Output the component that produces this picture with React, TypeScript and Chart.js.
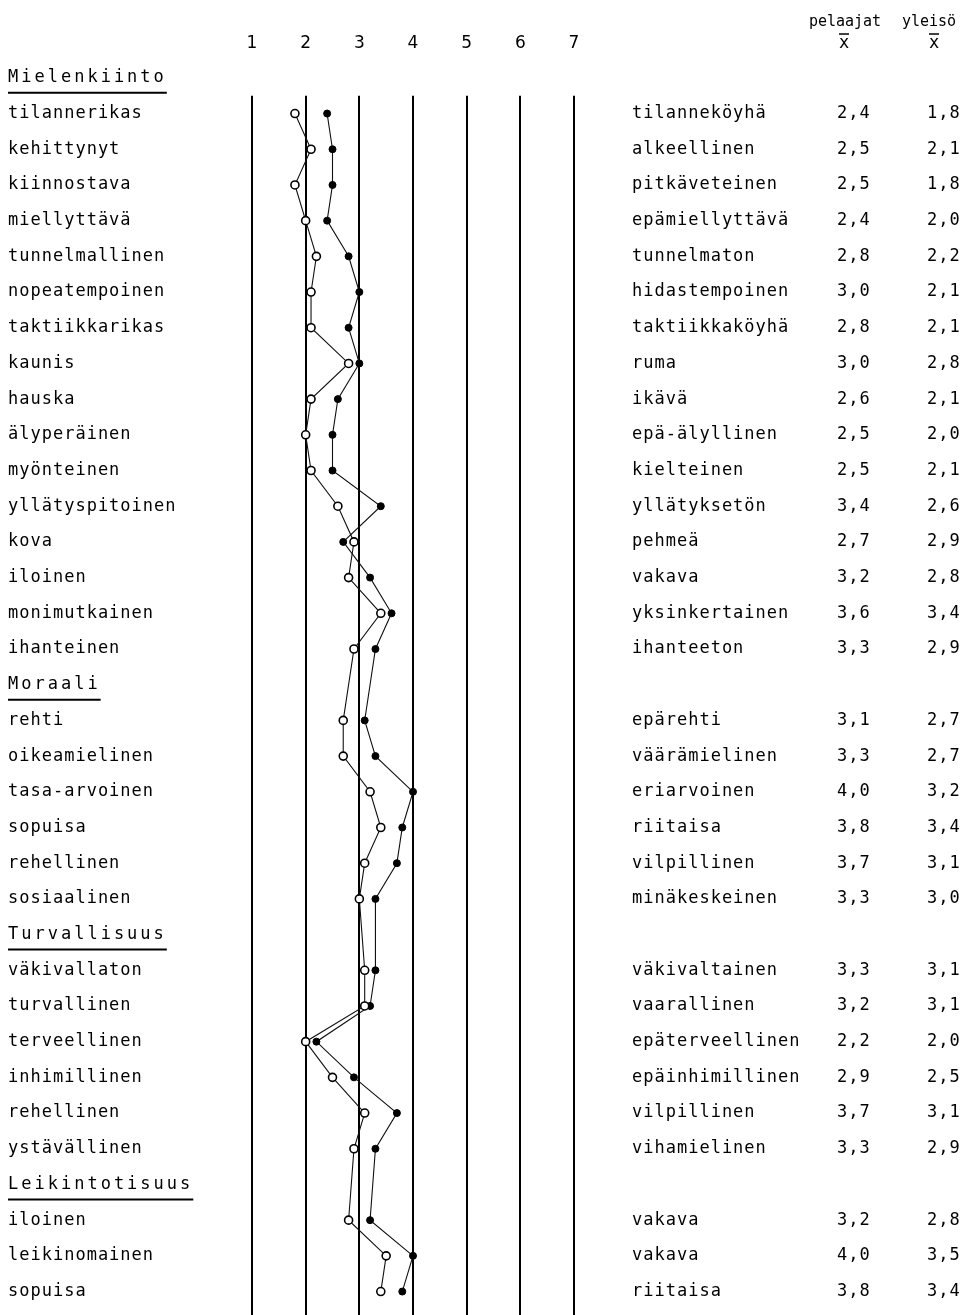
import React, { useEffect, useRef } from "react";
import { Chart, registerables } from "chart.js";

Chart.register(...registerables);

// Section headers are rows with empty values
const sectionHeaders = ["Mielenkiinto", "Moraali", "Turvallisuus", "Leikintotisuus"];

const positiveLabels = [
  "Mielenkiinto",
  "tilannerikas", "kehittynyt", "kiinnostava", "miellyttävä", "tunnelmallinen",
  "nopeatempoinen", "taktiikkarikas", "kaunis", "hauska", "älyperäinen",
  "myönteinen", "yllätyspitoinen", "kova", "iloinen", "monimutkainen", "ihanteinen",
  "Moraali",
  "rehti", "oikeamielinen", "tasa-arvoinen", "sopuisa", "rehellinen", "sosiaalinen",
  "Turvallisuus",
  "väkivallaton", "turvallinen", "terveellinen", "inhimillinen", "rehellinen", "ystävällinen",
  "Leikintotisuus",
  "iloinen", "leikinomainen", "sopuisa",
];

const negativeLabels = [
  "",
  "tilanneköyhä", "alkeellinen", "pitkäveteinen", "epämiellyttävä", "tunnelmaton",
  "hidastempoinen", "taktiikkaköyhä", "ruma", "ikävä", "epä-älyllinen",
  "kielteinen", "yllätyksetön", "pehmeä", "vakava", "yksinkertainen", "ihanteeton",
  "",
  "epärehti", "väärämielinen", "eriarvoinen", "riitaisa", "vilpillinen", "minäkeskeinen",
  "",
  "väkivaltainen", "vaarallinen", "epäterveellinen", "epäinhimillinen", "vilpillinen", "vihamielinen",
  "",
  "vakava", "vakava", "riitaisa",
];

const pelaajat: (number | null)[] = [
  null,
  2.4, 2.5, 2.5, 2.4, 2.8, 3.0, 2.8, 3.0, 2.6, 2.5, 2.5, 3.4, 2.7, 3.2, 3.6, 3.3,
  null,
  3.1, 3.3, 4.0, 3.8, 3.7, 3.3,
  null,
  3.3, 3.2, 2.2, 2.9, 3.7, 3.3,
  null,
  3.2, 4.0, 3.8,
];

const yleiso: (number | null)[] = [
  null,
  1.8, 2.1, 1.8, 2.0, 2.2, 2.1, 2.1, 2.8, 2.1, 2.0, 2.1, 2.6, 2.9, 2.8, 3.4, 2.9,
  null,
  2.7, 2.7, 3.2, 3.4, 3.1, 3.0,
  null,
  3.1, 3.1, 2.0, 2.5, 3.1, 2.9,
  null,
  2.8, 3.5, 3.4,
];

const scaleTicks = [1, 2, 3, 4, 5, 6, 7];
const valueHeaders = ["pelaajat", "yleisö"];

const MONO = '"DejaVu Sans Mono", "Liberation Mono", monospace';

const fmt = (v: number | null) => (v == null ? "" : v.toFixed(1).replace(".", ","));

const semanticPlugin = {
  id: "semanticDifferential",
  beforeDatasetsDraw(chart: any) {
    const { ctx, scales } = chart;
    const x = scales.x;
    const y = scales.y;
    const step = y.getPixelForValue(1) - y.getPixelForValue(0);
    const top = y.getPixelForValue(0) + step / 2;
    ctx.save();
    ctx.strokeStyle = "#000";
    ctx.lineWidth = 2;
    scaleTicks.forEach((t) => {
      const px = Math.round(x.getPixelForValue(t));
      ctx.beginPath();
      ctx.moveTo(px, top);
      ctx.lineTo(px, chart.height);
      ctx.stroke();
    });
    ctx.restore();
  },
  afterDraw(chart: any) {
    const { ctx, scales } = chart;
    const y = scales.y;
    ctx.save();
    ctx.fillStyle = "#000";
    ctx.textBaseline = "middle";
    positiveLabels.forEach((label, i) => {
      const py = y.getPixelForValue(i);
      const isHeader = sectionHeaders.includes(label) && negativeLabels[i] === "";
      ctx.font = `17px ${MONO}`;
      ctx.textAlign = "left";
      if (isHeader) {
        (ctx as any).letterSpacing = "3px";
        ctx.fillText(label, 8, py);
        const w = ctx.measureText(label).width;
        ctx.strokeStyle = "#000";
        ctx.lineWidth = 2;
        ctx.beginPath();
        ctx.moveTo(8, py + 15);
        ctx.lineTo(8 + w, py + 15);
        ctx.stroke();
      } else {
        (ctx as any).letterSpacing = "1px";
        ctx.fillText(label, 8, py);
        ctx.fillText(negativeLabels[i], 632, py);
        ctx.fillText(fmt(pelaajat[i]), 837, py);
        ctx.fillText(fmt(yleiso[i]), 927, py);
      }
    });
    // column headers
    (ctx as any).letterSpacing = "0px";
    ctx.font = `15px ${MONO}`;
    ctx.textAlign = "center";
    ctx.fillText(valueHeaders[0], 845, 22);
    ctx.fillText(valueHeaders[1], 929, 22);
    ctx.font = `17px ${MONO}`;
    ["x", "x"].forEach((s, k) => {
      const cx = k === 0 ? 844 : 934;
      ctx.fillText(s, cx, 44);
      ctx.lineWidth = 1.5;
      ctx.beginPath();
      ctx.moveTo(cx - 5, 34);
      ctx.lineTo(cx + 5, 34);
      ctx.stroke();
    });
    ctx.restore();
  },
};

export default function App() {
  const canvasRef = useRef<HTMLCanvasElement | null>(null);

  useEffect(() => {
    const canvas = canvasRef.current;
    if (!canvas) return;
    const chart = new Chart(canvas, {
      type: "line",
      data: {
        labels: positiveLabels.map((l, i) => `${i}:${l}`),
        datasets: [
          {
            label: "yleisö",
            data: yleiso,
            borderColor: "#111",
            borderWidth: 1.1,
            pointRadius: 4,
            pointBorderWidth: 1.6,
            pointBackgroundColor: "#fff",
            pointBorderColor: "#000",
            spanGaps: true,
            tension: 0,
          },
          {
            label: "pelaajat",
            data: pelaajat,
            borderColor: "#111",
            borderWidth: 1.1,
            pointRadius: 3.5,
            pointBorderWidth: 1,
            pointBackgroundColor: "#000",
            pointBorderColor: "#000",
            spanGaps: true,
            tension: 0,
          },
        ],
      },
      options: {
        indexAxis: "y",
        responsive: false,
        animation: false,
        layout: { padding: { left: 252, right: 394, top: 0, bottom: 4 } },
        plugins: {
          legend: { display: false },
          tooltip: { enabled: false },
        },
        scales: {
          x: {
            type: "linear",
            position: "top",
            min: 1,
            max: 7,
            grid: { display: false },
            border: { display: false },
            afterFit: (scale: any) => {
              scale.height = 60;
            },
            ticks: {
              stepSize: 1,
              padding: -2,
              color: "#000",
              font: { family: '"DejaVu Sans", sans-serif', size: 17 },
            },
          },
          y: {
            type: "category",
            display: false,
            offset: true,
          },
        },
      },
      plugins: [semanticPlugin],
    });
    return () => chart.destroy();
  }, []);

  return (
    <div style={{ position: "absolute", left: 0, top: 0, width: 968, height: 1315, background: "#fff" }}>
      <canvas ref={canvasRef} width={968} height={1315} style={{ display: "block" }} />
    </div>
  );
}
